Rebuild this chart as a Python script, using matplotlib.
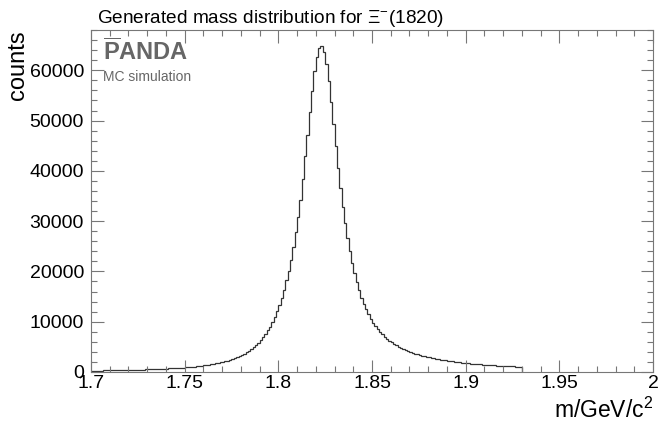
import numpy as np
import matplotlib
matplotlib.use('Agg')
import matplotlib.pyplot as plt
from matplotlib.ticker import MultipleLocator, FixedLocator

plt.rcParams['font.family'] = ['Liberation Sans', 'DejaVu Sans']
plt.rcParams['mathtext.fontset'] = 'custom'
plt.rcParams['mathtext.rm'] = 'Liberation Sans'
plt.rcParams['mathtext.bf'] = 'Liberation Sans:bold'
plt.rcParams['mathtext.default'] = 'regular'

# histogram binning (GeV/c^2)
x_start = 1.70
bin_width = 0.00125

# counts per bin
counts = [
    262, 268, 273, 281, 288, 295, 303, 311, 319, 327,
    336, 346, 356, 366, 377, 388, 400, 413, 426, 440,
    454, 469, 485, 501, 517, 534, 551, 569, 588, 608,
    629, 651, 675, 700, 725, 752, 780, 810, 841, 874,
    908, 944, 985, 1030, 1078, 1130, 1185, 1245, 1310, 1380,
    1450, 1525, 1605, 1690, 1785, 1885, 1995, 2115, 2255, 2420,
    2590, 2780, 2940, 3150, 3380, 3630, 3920, 4230, 4580, 4960,
    5350, 5820, 6330, 6900, 7480, 8250, 9000, 9950, 10950, 12100,
    13400, 14800, 16400, 18200, 20100, 22300, 24900, 27800, 30900, 34300,
    38300, 42900, 47100, 51750, 55850, 59800, 62600, 64400, 64750, 63650,
    61250, 57850, 53750, 49350, 44900, 40600, 36550, 32900, 29550, 26600,
    24000, 21650, 19650, 17800, 16250, 14800, 13550, 12450, 11500, 10600,
    9800, 9100, 8450, 7960, 7450, 6990, 6585, 6220, 5887, 5588,
    5324, 5052, 4801, 4575, 4367, 4169, 3983, 3816, 3650, 3501,
    3361, 3228, 3105, 2988, 2877, 2787, 2700, 2607, 2519, 2435,
    2356, 2291, 2218, 2150, 2094, 2032, 1973, 1917, 1862, 1819,
    1769, 1722, 1677, 1633, 1591, 1551, 1514, 1477, 1441, 1407,
    1374, 1344, 1311, 1281, 1251, 1222, 1195, 1169, 1143, 1118,
    1094, 1070, 1049, 1027,
]
edges = x_start + bin_width * np.arange(len(counts) + 1)

x_ticks = [1.7, 1.75, 1.8, 1.85, 1.9, 1.95, 2.0]
x_ticklabels = ['1.7', '1.75', '1.8', '1.85', '1.9', '1.95', '2']
y_ticks = [0, 10000, 20000, 30000, 40000, 50000, 60000]

fig = plt.figure(figsize=(6.59, 4.30), dpi=100)
ax = fig.add_axes([0.138, 0.135, 0.853, 0.795])

ax.stairs(counts, edges, color='#333333', linewidth=0.9)

ax.set_xlim(1.7, 2.0)
ax.set_ylim(0, 68000)
ax.xaxis.set_major_locator(FixedLocator(x_ticks))
ax.set_xticklabels(x_ticklabels)
ax.xaxis.set_minor_locator(MultipleLocator(0.01))
ax.yaxis.set_major_locator(FixedLocator(y_ticks))
ax.yaxis.set_minor_locator(MultipleLocator(2000))

ax.tick_params(which='both', direction='in', top=True, right=True,
               color='#777777', labelsize=14, labelcolor='black')
ax.tick_params(which='major', length=9, width=0.8)
ax.tick_params(which='minor', length=4.5, width=0.8)
ax.tick_params(axis='x', which='major', pad=2)
ax.tick_params(axis='y', which='major', pad=5)
for sp in ax.spines.values():
    sp.set_color('#777777')
    sp.set_linewidth(0.8)

ax.set_ylabel('counts', loc='top', fontsize=17, labelpad=0)
ax.set_xlabel('m/GeV/c$^{2}$', loc='right', fontsize=16.5, labelpad=4)

fig.text(0.147, 0.958, 'Generated mass distribution for Ξ$^{-}$(1820)',
         fontsize=13.7, ha='left', va='center')

# PANDA logo
ax.text(0.021, 0.975, r'$\overline{\mathbf{P}}\mathbf{ANDA}$', transform=ax.transAxes,
        fontsize=17, color='#666666', ha='left', va='top')
ax.text(0.021, 0.883, 'MC simulation', transform=ax.transAxes,
        fontsize=10, color='#666666', ha='left', va='top')

plt.savefig('out.png', dpi=100)
